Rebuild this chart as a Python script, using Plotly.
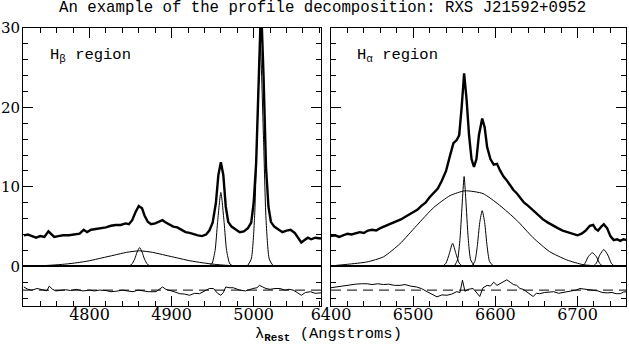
import plotly.graph_objects as go

W, H = 629, 344

# ---- H-beta region ----
hb_wave = [4720, 4725, 4730, 4735, 4740, 4745, 4750, 4753, 4757, 4762, 4768, 4775, 4782, 4788,
           4793, 4797, 4802, 4808, 4814, 4820, 4826, 4832, 4838, 4844, 4848, 4852, 4856, 4860,
           4864, 4867, 4871, 4875, 4880, 4885, 4889, 4893, 4897, 4902, 4907, 4912, 4917, 4922,
           4927, 4932, 4937, 4942, 4946, 4950, 4954, 4957, 4960, 4963, 4966, 4969, 4973, 4978,
           4983, 4988, 4993, 4997, 5000, 5003, 5006, 5009, 5012, 5015, 5018, 5021, 5025, 5030,
           5035, 5040, 5045, 5050, 5054, 5058, 5062, 5066, 5070, 5075, 5082]
hb_flux = [3.9, 4.0, 3.8, 3.6, 3.8, 3.7, 4.4, 4.1, 3.7, 3.8, 3.9, 3.9, 4.0, 4.1,
           4.6, 4.3, 4.6, 4.7, 4.8, 4.9, 5.1, 5.2, 5.2, 5.4, 5.3, 5.8, 6.8, 7.6,
           7.3, 6.4, 5.6, 5.3, 5.4, 5.6, 5.8, 5.5, 5.3, 5.0, 4.9, 4.6, 4.3, 4.2,
           4.0, 3.9, 3.8, 4.0, 4.5, 5.5, 8.0, 11.5, 13.1, 11.5, 7.5, 5.6, 5.0, 4.7,
           4.3, 4.4, 4.8, 5.5, 8.0, 13.0, 24.0, 33.0, 24.0, 12.5, 7.5, 5.6, 5.0, 4.6,
           4.3, 4.5, 4.6, 4.2, 3.6, 3.0, 3.3, 3.6, 3.4, 3.6, 3.5]

hb_broad_wave = [4720, 4740, 4755, 4770, 4785, 4800, 4815, 4830, 4845, 4861, 4877, 4892,
                 4907, 4922, 4937, 4952, 4967, 4982, 4997, 5010]
hb_broad_flux = [0.0, 0.06, 0.15, 0.27, 0.45, 0.7, 1.05, 1.4, 1.75, 1.95, 1.75, 1.4,
                 1.05, 0.7, 0.45, 0.25, 0.12, 0.05, 0.02, 0.0]
hb_narrow_wave = [4846, 4851, 4855, 4858, 4861, 4864, 4867, 4871, 4876]
hb_narrow_flux = [0.0, 0.2, 0.9, 1.8, 2.35, 1.8, 0.9, 0.2, 0.0]
o3a_wave = [4944, 4949, 4953, 4956, 4960, 4964, 4967, 4971, 4976]
o3a_flux = [0.0, 0.3, 2.0, 5.5, 9.3, 5.5, 2.0, 0.3, 0.0]
o3b_wave = [4992, 4997, 5001, 5004, 5008, 5012, 5015, 5019, 5024]
o3b_flux = [0.0, 0.9, 6.0, 16.0, 28.0, 16.0, 6.0, 0.9, 0.0]

hb_res_wave = [4720, 4725, 4730, 4736, 4743, 4748, 4751, 4755, 4759, 4765, 4771, 4777, 4784,
               4792, 4800, 4806, 4812, 4820, 4826, 4832, 4840, 4846, 4853, 4859, 4865, 4872,
               4881, 4885, 4889, 4893, 4897, 4903, 4910, 4916, 4922, 4928, 4934, 4940, 4946,
               4951, 4956, 4960, 4963, 4966, 4970, 4975, 4979, 4983, 4990, 4995, 4999, 5004,
               5007, 5011, 5015, 5020, 5026, 5032, 5038, 5043, 5048, 5053, 5058, 5063, 5069,
               5075, 5082]
hb_res = [0.4, 0.1, 0.0, 0.2, 0.05, -0.1, 0.5, 0.1, -0.1, 0.0, 0.05, -0.05, 0.1,
          -0.1, 0.0, -0.1, 0.0, -0.05, -0.2, -0.15, 0.0, -0.1, -0.2, 0.0, -0.1, -0.2,
          -0.2, 0.1, 0.4, 0.1, 0.0, -0.2, -0.45, -0.5, -0.65, -0.4, -0.45, -0.1, 0.2,
          0.2, -0.4, -0.65, -0.3, 0.4, 0.3, 0.3, 0.1, 0.0, -0.1, 0.1, 0.2, 0.3,
          0.6, 0.4, 0.2, 0.1, 0.2, 0.2, 0.0, 0.1, 0.0, -0.3, -0.65, -0.3, -0.2,
          -0.4, -0.35]

# ---- H-alpha region ----
ha_wave = [6400, 6405, 6410, 6415, 6420, 6425, 6430, 6435, 6440, 6445, 6450, 6455, 6460, 6465,
           6470, 6475, 6480, 6485, 6490, 6495, 6500, 6505, 6510, 6515, 6520, 6525, 6530, 6535,
           6540, 6545, 6549, 6553, 6556, 6559, 6562, 6565, 6568, 6571, 6574, 6577, 6580, 6584,
           6587, 6590, 6594, 6598, 6602, 6606, 6610, 6614, 6618, 6622, 6626, 6630, 6635, 6640,
           6646, 6652, 6658, 6664, 6670, 6676, 6682, 6688, 6694, 6700, 6705, 6710, 6715, 6719,
           6722, 6725, 6729, 6732, 6736, 6740, 6744, 6748, 6752, 6756, 6760]
ha_flux = [3.8, 3.9, 3.7, 3.9, 4.1, 4.0, 4.2, 4.3, 4.2, 4.5, 4.6, 4.5, 4.8, 5.0,
           5.2, 5.5, 5.6, 5.9, 6.2, 6.5, 6.8, 7.1, 7.6, 8.0, 8.7, 9.2, 9.8, 10.8,
           12.0, 14.0, 15.5, 15.9, 16.5, 20.0, 24.3, 21.0, 16.5, 13.5, 12.5, 13.5, 16.5, 18.6,
           17.5, 15.0, 13.5, 12.8, 12.9, 12.0, 11.3, 10.8, 10.2, 9.6, 9.2, 8.7, 8.0, 7.6,
           7.0, 6.4, 5.9, 5.5, 5.1, 4.8, 4.5, 4.3, 4.1, 3.9, 4.1, 4.5, 5.1, 5.2,
           4.7, 4.5, 5.0, 5.3, 4.8, 3.8, 3.3, 3.4, 3.2, 3.4, 3.3]

ha_broad_wave = [6400, 6420, 6444, 6464, 6484, 6504, 6525, 6545, 6563, 6585, 6605, 6626,
                 6646, 6666, 6687, 6707, 6725, 6745]
ha_broad_flux = [0.05, 0.25, 0.55, 1.2, 2.85, 5.1, 7.4, 8.9, 9.5, 9.15, 7.7, 5.8,
                 3.6, 1.85, 0.8, 0.2, 0.05, 0.0]
n2a_wave = [6536, 6540, 6544, 6548, 6552, 6556, 6560]
n2a_flux = [0.0, 0.4, 1.6, 2.9, 1.6, 0.4, 0.0]
ha_narrow_wave = [6550, 6554, 6557, 6560, 6562, 6564, 6567, 6570, 6575]
ha_narrow_flux = [0.0, 0.8, 3.5, 8.5, 11.3, 8.5, 3.5, 0.8, 0.0]
n2b_wave = [6571, 6575, 6578, 6581, 6584, 6587, 6590, 6593, 6598]
n2b_flux = [0.0, 0.6, 2.5, 5.5, 7.0, 5.5, 2.5, 0.6, 0.0]
s2a_wave = [6705, 6709, 6713, 6718, 6723, 6727, 6731]
s2a_flux = [0.0, 0.35, 1.2, 1.7, 1.2, 0.35, 0.0]
s2b_wave = [6719, 6723, 6727, 6732, 6737, 6741, 6745]
s2b_flux = [0.0, 0.4, 1.4, 2.1, 1.4, 0.4, 0.0]

ha_res_wave = [6400, 6406, 6411, 6417, 6423, 6430, 6437, 6444, 6450, 6457, 6464, 6470, 6477,
               6484, 6490, 6497, 6504, 6510, 6517, 6523, 6529, 6535, 6541, 6547, 6553, 6557,
               6560, 6563, 6567, 6573, 6577, 6581, 6585, 6590, 6594, 6598, 6602, 6605, 6610,
               6614, 6618, 6622, 6626, 6630, 6634, 6638, 6642, 6646, 6650, 6654, 6660, 6666,
               6671, 6677, 6682, 6687, 6693, 6698, 6703, 6709, 6714, 6719, 6725, 6730, 6736,
               6742, 6747, 6752, 6756, 6760]
ha_res = [0.3, 0.4, 0.5, 0.6, 0.7, 0.75, 0.8, 0.8, 0.7, 0.8, 0.7, 0.75, 0.6,
          0.6, 0.7, 0.5, 0.4, 0.2, -0.2, -0.5, -0.85, -0.6, -0.65, -0.5, -0.2, -0.3,
          1.25, -0.15, 0.1, 0.2, -0.3, -0.8, 0.3, 0.6, 0.5, 1.0, 0.6, 0.8, 1.1,
          1.3, 1.0, 0.7, 0.6, 0.2, 0.1, -0.2, -0.5, -0.8, -0.4, -0.45, -0.3, -0.2,
          -0.2, -0.4, -0.3, -0.2, -0.1, 0.0, 0.2, 0.1, 0.0, 0.0, -0.1, -0.3, -0.35,
          -0.3, -0.45, -0.45, -0.25, -0.2]

RESID_OFFSET = -3

# pixel layout of the two frames
x_left, x_mid_l, x_mid_r, x_right = 23, 321, 331, 626
y_top, y_bot = 28, 306


def px(x):
    return x / W


def py(y):
    return 1 - y / H


FONT = "DejaVu Serif"
TFONT = "Liberation Mono"

fig = go.Figure()

thick = dict(color="black", width=2.4)
thin = dict(color="black", width=1, shape="spline", smoothing=0.6)
res_line = dict(color="black", width=1)

# left panel
fig.add_trace(go.Scatter(x=hb_wave, y=hb_flux, mode="lines", line=thick, xaxis="x", yaxis="y"))
for wv, fl in [(hb_broad_wave, hb_broad_flux), (hb_narrow_wave, hb_narrow_flux),
               (o3a_wave, o3a_flux), (o3b_wave, o3b_flux)]:
    fig.add_trace(go.Scatter(x=wv, y=fl, mode="lines", line=thin, xaxis="x", yaxis="y"))
fig.add_trace(go.Scatter(x=hb_res_wave, y=[r + RESID_OFFSET for r in hb_res], mode="lines",
                         line=res_line, xaxis="x", yaxis="y"))

# right panel
fig.add_trace(go.Scatter(x=ha_wave, y=ha_flux, mode="lines", line=thick, xaxis="x2", yaxis="y2"))
for wv, fl in [(ha_broad_wave, ha_broad_flux), (n2a_wave, n2a_flux),
               (ha_narrow_wave, ha_narrow_flux), (n2b_wave, n2b_flux),
               (s2a_wave, s2a_flux), (s2b_wave, s2b_flux)]:
    fig.add_trace(go.Scatter(x=wv, y=fl, mode="lines", line=thin, xaxis="x2", yaxis="y2"))
fig.add_trace(go.Scatter(x=ha_res_wave, y=[r + RESID_OFFSET for r in ha_res], mode="lines",
                         line=res_line, xaxis="x2", yaxis="y2"))

# dashed reference line for the residuals
for xr, yr in [("x domain", "y"), ("x2 domain", "y2")]:
    fig.add_shape(type="line", xref=xr, yref=yr, x0=0, x1=1, y0=RESID_OFFSET, y1=RESID_OFFSET,
                  line=dict(color="black", width=1, dash="10px,6px"))

xcommon = dict(showline=True, linecolor="black", linewidth=1, mirror="ticks",
               ticks="inside", ticklen=10, tickcolor="black", tickwidth=1,
               dtick=100, tick0=0, showgrid=False, zeroline=False, automargin=False,
               ticklabelstandoff=-6,
               tickfont=dict(family=FONT, size=16, color="black"),
               minor=dict(dtick=20, tick0=0, ticks="inside", ticklen=5, tickcolor="black",
                          showgrid=False))
ycommon = dict(showline=True, linecolor="black", linewidth=1, mirror="ticks",
               ticks="inside", ticklen=10, tickcolor="black", tickwidth=1,
               range=[-5, 30], dtick=10, tick0=0, showgrid=False, automargin=False,
               zeroline=True, zerolinecolor="black", zerolinewidth=1.5,
               domain=[py(y_bot), py(y_top)], ticklabelstandoff=-1,
               tickfont=dict(family=FONT, size=15, color="black"),
               minor=dict(dtick=2, tick0=0, ticks="inside", ticklen=5, tickcolor="black",
                          showgrid=False))

fig.update_layout(
    width=W, height=H,
    margin=dict(l=0, r=0, t=0, b=0),
    paper_bgcolor="white", plot_bgcolor="white",
    showlegend=False,
    font=dict(family=FONT, color="black"),
    xaxis=dict(xcommon, domain=[px(x_left), px(x_mid_l)], range=[4719, 5082], anchor="y"),
    xaxis2=dict(xcommon, domain=[px(x_mid_r), px(x_right)], range=[6400, 6759], anchor="y2"),
    yaxis=dict(ycommon, anchor="x"),
    yaxis2=dict(ycommon, anchor="x2", showticklabels=False),
    annotations=[
        dict(text="An example of the profile decomposition: RXS J21592+0952",
             x=px(322), y=py(8), xref="paper", yref="paper", showarrow=False,
             xanchor="center", yanchor="middle", font=dict(family=TFONT, size=15.7)),
        dict(text="H<sub>β</sub> region", x=px(48), y=py(55), xref="paper", yref="paper",
             showarrow=False, xanchor="left", yanchor="middle", font=dict(family=TFONT, size=15.5)),
        dict(text="H<sub>α</sub> region", x=px(355), y=py(55), xref="paper", yref="paper",
             showarrow=False, xanchor="left", yanchor="middle", font=dict(family=TFONT, size=15.5)),
        dict(text="λ<sub><b>Rest</b></sub> (Angstroms)", x=px(328), y=py(334),
             xref="paper", yref="paper", showarrow=False, xanchor="center", yanchor="middle",
             font=dict(family=TFONT, size=15.5)),
    ],
)

# drop the page's default body margin so the figure fills the window
fig.write_html("out.html", config={"displayModeBar": False},
               post_script="document.body.style.margin='0px';")
